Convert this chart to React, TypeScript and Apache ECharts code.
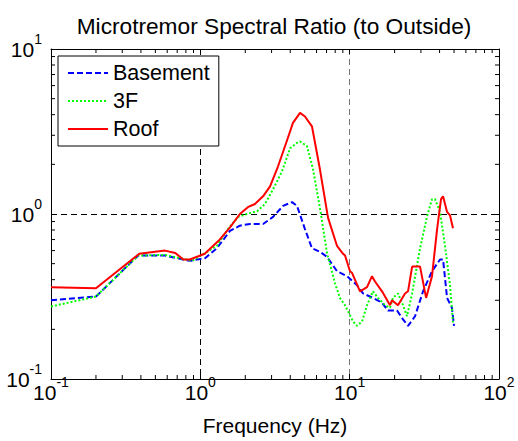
import React, { useEffect, useRef } from "react";
import * as echarts from "echarts";

const FONT = "'Liberation Sans', Arial, Helvetica, sans-serif";

// Frequency (Hz) / spectral ratio samples for each floor
const basementFreq = [0.1, 0.2, 0.383, 0.58, 0.765, 0.853, 1.075, 1.29, 1.58, 1.84, 2.15, 2.63, 3.07, 3.58, 4.11, 4.44, 5.02, 5.59, 6.33, 7.05, 8.23, 9.6, 11.2, 12.29, 14.33, 16.47, 18.06, 20.75, 22.76, 24.6, 27.4, 31.0, 35.6, 40.3, 42.2, 44.9, 48.4, 50.0];
const basementRatio = [0.30, 0.316, 0.56, 0.56, 0.53, 0.52, 0.54, 0.62, 0.79, 0.85, 0.87, 0.87, 0.96, 1.12, 1.18, 1.12, 0.81, 0.62, 0.59, 0.55, 0.45, 0.42, 0.37, 0.33, 0.31, 0.29, 0.26, 0.26, 0.23, 0.21, 0.24, 0.34, 0.45, 0.53, 0.53, 0.31, 0.27, 0.21];

const floor3Freq = [0.1, 0.2, 0.383, 0.58, 0.88, 1.075, 1.29, 1.53, 1.79, 2.05, 2.4, 2.71, 3.07, 3.52, 3.99, 4.44, 4.65, 5.18, 5.68, 6.33, 7.05, 7.98, 8.6, 9.31, 10.53, 11.2, 12.1, 13.07, 14.33, 15.48, 17.25, 18.63, 19.5, 21.07, 22.76, 24.2, 26.2, 29.6, 33.0, 35.6, 37.3, 40.3, 43.5, 47.0, 49.2];
const floor3Ratio = [0.275, 0.316, 0.56, 0.565, 0.52, 0.58, 0.64, 0.81, 0.96, 1.0, 1.04, 1.15, 1.41, 1.81, 2.5, 2.7, 2.75, 2.58, 1.87, 1.08, 0.58, 0.38, 0.31, 0.28, 0.223, 0.21, 0.223, 0.28, 0.34, 0.31, 0.28, 0.27, 0.31, 0.33, 0.28, 0.24, 0.33, 0.62, 0.97, 1.23, 1.23, 1.03, 0.64, 0.37, 0.22];

const roofFreq = [0.1, 0.2, 0.39, 0.58, 0.68, 0.77, 0.85, 1.07, 1.33, 1.58, 1.84, 2.08, 2.32, 2.63, 2.93, 3.31, 3.81, 4.17, 4.65, 5.02, 5.59, 6.3, 7.16, 8.23, 9.03, 9.31, 10.05, 10.37, 11.73, 13.07, 14.11, 14.78, 16.47, 18.63, 19.2, 21.07, 23.48, 24.6, 26.2, 29.6, 32.5, 35.6, 38.5, 40.9, 42.2, 44.9, 47.0, 49.2];
const roofRatio = [0.36, 0.355, 0.574, 0.6, 0.58, 0.53, 0.53, 0.574, 0.69, 0.83, 1.0, 1.1, 1.15, 1.28, 1.47, 1.94, 2.8, 3.57, 4.1, 3.9, 3.4, 1.9, 0.95, 0.64, 0.574, 0.56, 0.45, 0.44, 0.34, 0.36, 0.42, 0.39, 0.34, 0.28, 0.3, 0.28, 0.33, 0.34, 0.48, 0.48, 0.31, 0.42, 0.81, 1.23, 1.28, 1.03, 0.98, 0.82];

// Axis limits and minor tick positions on the log scales
const xMin = 0.1;
const xMax = 100;
const yMin = 0.1;
const yMax = 10;
const xMinorTicks = [0.2, 0.3, 0.4, 0.5, 0.6, 0.7, 0.8, 0.9, 2, 3, 4, 5, 6, 7, 8, 9, 20, 30, 40, 50, 60, 70, 80, 90];
const yMinorTicks = [0.2, 0.3, 0.4, 0.5, 0.6, 0.7, 0.8, 0.9, 2, 3, 4, 5, 6, 7, 8, 9];

const pairs = (xs: number[], ys: number[]) => xs.map((x, i) => [x, ys[i]]);

const powLabel = (v: number) => {
  const e = Math.round(Math.log10(v));
  return `{b|10}{e|${e}}`;
};

const labelRich = {
  b: { fontSize: 21, fontFamily: FONT, color: "#000" },
  e: { fontSize: 14, fontFamily: FONT, color: "#000", padding: [0, 0, 20, 0] },
};

export default function App() {
  const ref = useRef<HTMLDivElement>(null);

  useEffect(() => {
    if (!ref.current) return;
    const chart = echarts.init(ref.current, undefined, { renderer: "svg" });

    const tickLine = (x1: number, y1: number, x2: number, y2: number) => ({
      type: "line",
      shape: { x1, y1, x2, y2 },
      style: { stroke: "#000", lineWidth: 1 },
    });

    const frame = {
      show: true,
      lineStyle: { color: "#000", width: 1 },
    };

    chart.setOption({
      animation: false,
      backgroundColor: "#fff",
      title: {
        text: "Microtremor Spectral Ratio (to Outside)",
        left: 269,
        top: 9,
        textAlign: "center",
        textStyle: { fontSize: 22.7, fontWeight: "normal", fontFamily: FONT, color: "#000" },
      },
      legend: {
        orient: "vertical",
        left: 58,
        top: 56,
        padding: [5, 9, 5, 9],
        itemWidth: 40,
        itemHeight: 12,
        itemGap: 4,
        backgroundColor: "#fff",
        borderColor: "#000",
        borderWidth: 1,
        itemStyle: { opacity: 0 },
        data: ["Basement", "3F", "Roof"],
        textStyle: { fontSize: 21.5, fontFamily: FONT, color: "#000", lineHeight: 24 },
      },
      grid: { left: 51, top: 49, width: 448, height: 332, containLabel: false },
      xAxis: [
        {
          type: "log",
          logBase: 10,
          min: xMin,
          max: xMax,
          name: "Frequency (Hz)",
          nameLocation: "middle",
          nameGap: 36,
          nameTextStyle: { fontSize: 21, fontFamily: FONT, color: "#000" },
          axisLine: frame,
          axisTick: { show: true, inside: true, length: 5, lineStyle: { color: "#000" } },
          axisLabel: {
            formatter: powLabel,
            rich: labelRich,
            margin: 13,
            verticalAlign: "middle",
            showMinLabel: true,
            showMaxLabel: true,
          },
          splitLine: {
            show: true,
            lineStyle: { color: ["#000", "#000", "#777", "#000"], type: [6, 4], width: 1 },
          },
        },
        {
          type: "log",
          logBase: 10,
          min: xMin,
          max: xMax,
          position: "top",
          axisLine: frame,
          axisTick: { show: true, inside: true, length: 5, lineStyle: { color: "#000" } },
          axisLabel: { show: false },
          splitLine: { show: false },
        },
      ],
      yAxis: [
        {
          type: "log",
          logBase: 10,
          min: yMin,
          max: yMax,
          axisLine: frame,
          axisTick: { show: true, inside: true, length: 5, lineStyle: { color: "#000" } },
          axisLabel: {
            formatter: powLabel,
            rich: labelRich,
            margin: 9,
            showMinLabel: true,
            showMaxLabel: true,
          },
          splitLine: {
            show: true,
            lineStyle: { color: "#000", type: [6, 4], width: 1 },
          },
        },
        {
          type: "log",
          logBase: 10,
          min: yMin,
          max: yMax,
          position: "right",
          axisLine: frame,
          axisTick: { show: true, inside: true, length: 5, lineStyle: { color: "#000" } },
          axisLabel: { show: false },
          splitLine: { show: false },
        },
      ],
      series: [
        {
          name: "Basement",
          type: "line",
          data: pairs(basementFreq, basementRatio),
          showSymbol: false,
          symbol: "none",
          lineStyle: { color: "#0000ff", width: 2, type: [6, 3] },
          itemStyle: { color: "#0000ff" },
        },
        {
          name: "3F",
          type: "line",
          data: pairs(floor3Freq, floor3Ratio),
          showSymbol: false,
          symbol: "none",
          lineStyle: { color: "#00ff00", width: 2, type: [2, 2] },
          itemStyle: { color: "#00ff00" },
        },
        {
          name: "Roof",
          type: "line",
          data: pairs(roofFreq, roofRatio),
          showSymbol: false,
          symbol: "none",
          lineStyle: { color: "#ff0000", width: 2 },
          itemStyle: { color: "#ff0000" },
        },
        {
          name: "xMinor",
          type: "custom",
          silent: true,
          data: xMinorTicks.map((f) => [f, 1]),
          renderItem: (_p: any, api: any) => {
            const f = api.value(0);
            const b = api.coord([f, yMin]);
            const t = api.coord([f, yMax]);
            return {
              type: "group",
              children: [tickLine(b[0], b[1], b[0], b[1] - 4), tickLine(t[0], t[1], t[0], t[1] + 4)],
            };
          },
        },
        {
          name: "yMinor",
          type: "custom",
          silent: true,
          data: yMinorTicks.map((v) => [1, v]),
          renderItem: (_p: any, api: any) => {
            const v = api.value(1);
            const l = api.coord([xMin, v]);
            const r = api.coord([xMax, v]);
            return {
              type: "group",
              children: [tickLine(l[0], l[1], l[0] + 4, l[1]), tickLine(r[0], r[1], r[0] - 4, r[1])],
            };
          },
        },
      ],
    });

    return () => chart.dispose();
  }, []);

  return (
    <div
      ref={ref}
      style={{ position: "fixed", left: 0, top: 0, width: 518, height: 441, background: "#fff" }}
    />
  );
}
